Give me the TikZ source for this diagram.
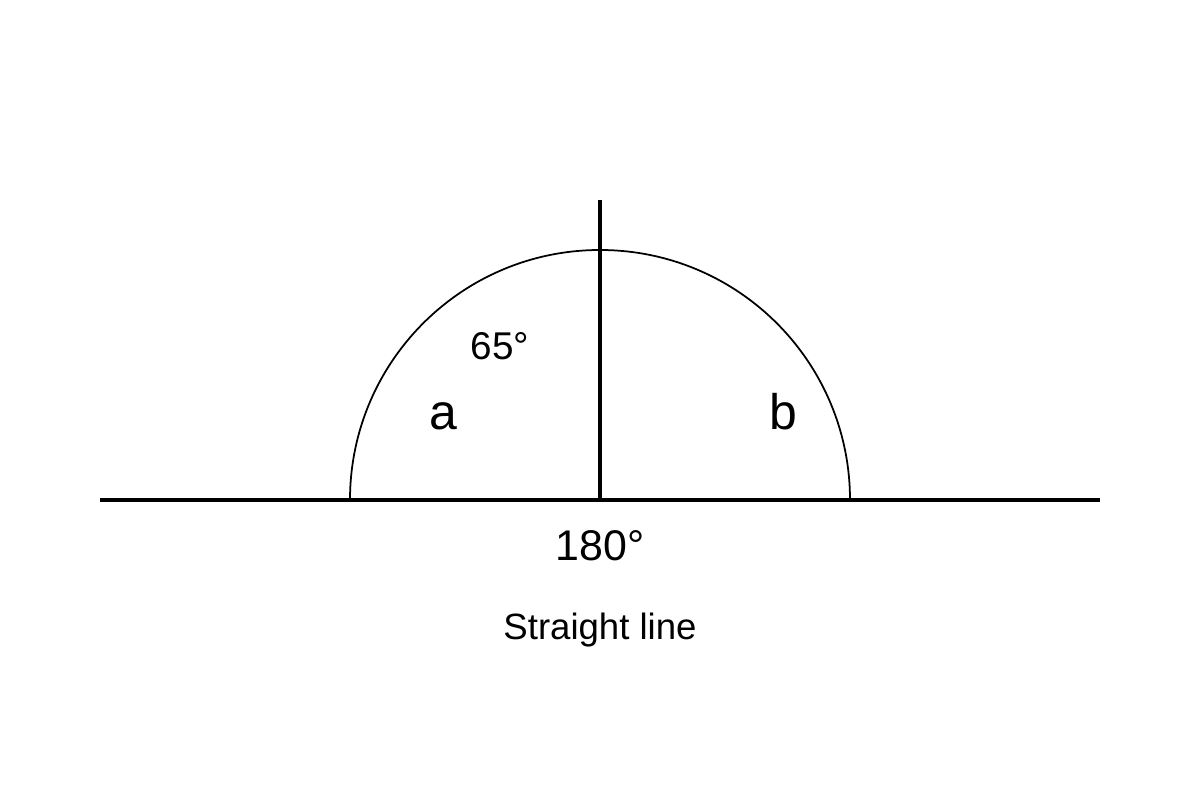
\documentclass[tikz,border=0pt]{standalone}
\usepackage{fontspec}
\setmainfont{Liberation Sans}
\usetikzlibrary{positioning}
\begin{document}
\begin{tikzpicture}[x=0.01cm, y=0.01cm]

    \tikzstyle{ray} = [line width=1pt]
    \tikzstyle{anglearc} = [line width=0.5pt]
    \tikzstyle{txt} = [inner sep=0pt, anchor=base]

    \useasboundingbox (0,0) rectangle (1200,800);

    \coordinate (left) at (100,300);
    \coordinate (right) at (1100,300);
    \coordinate (vertex) at (600,300);
    \coordinate (top) at (600,600);

    \draw [anglearc] (350,300) arc (180:0:250);
    \draw [ray] (left) -- (right);
    \draw [ray] (vertex) -- (top);

    \node (angle65) [txt, font=\fontsize{11}{13}\selectfont] at (500,440) {65°};
    \node (a) [txt, font=\fontsize{14.2}{16}\selectfont] at (443,370) {a};
    \node (b) [txt, font=\fontsize{14.2}{16}\selectfont] at (783,370) {b};
    \node (angle180) [txt, font=\fontsize{12.2}{14}\selectfont] at (600,239) {180°};
    \node (caption) [txt, font=\fontsize{10.4}{12}\selectfont, below=0.78cm of angle180.base, anchor=base] {Straight line};

\end{tikzpicture}
\end{document}
